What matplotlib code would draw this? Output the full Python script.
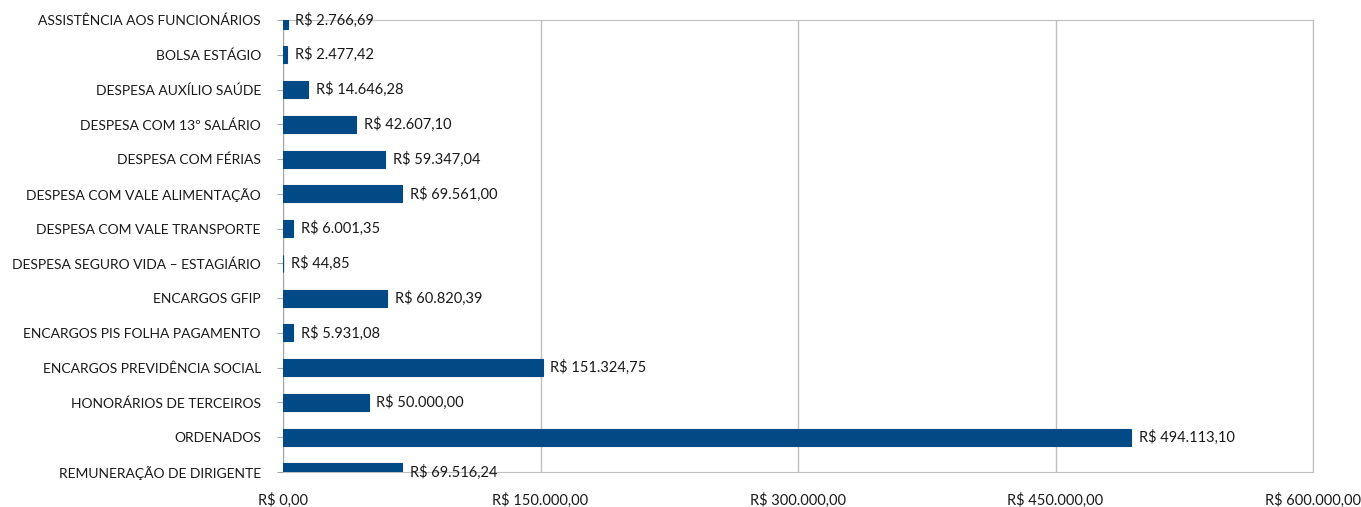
import matplotlib

matplotlib.use("Agg")
import matplotlib.pyplot as plt
import numpy as np

categories = [
    "ASSISTÊNCIA AOS FUNCIONÁRIOS",
    "BOLSA ESTÁGIO",
    "DESPESA AUXÍLIO SAÚDE",
    "DESPESA COM 13º SALÁRIO",
    "DESPESA COM FÉRIAS",
    "DESPESA COM VALE ALIMENTAÇÃO",
    "DESPESA COM VALE TRANSPORTE",
    "DESPESA SEGURO VIDA – ESTAGIÁRIO",
    "ENCARGOS GFIP",
    "ENCARGOS PIS FOLHA PAGAMENTO",
    "ENCARGOS PREVIDÊNCIA SOCIAL",
    "HONORÁRIOS DE TERCEIROS",
    "ORDENADOS",
    "REMUNERAÇÃO DE DIRIGENTE",
]
values = [
    2766.69, 2477.42, 14646.28, 42607.10, 59347.04, 69561.00, 6001.35,
    44.85, 60820.39, 5931.08, 151324.75, 50000.00, 494113.10, 69516.24,
]
x_ticks = [0, 150000, 300000, 450000, 600000]


def brl(v):
    s = f"{v:,.2f}".replace(",", "X").replace(".", ",").replace("X", ".")
    return f"R$ {s}"


plt.rcParams["font.family"] = ["Lato", "DejaVu Sans"]

fig = plt.figure(figsize=(13.61, 5.07), dpi=100)
ax = fig.add_axes([283 / 1361, 1 - 472 / 507, 1030 / 1361, 452 / 507])

y = np.arange(len(categories))
ax.barh(y, values, height=0.49, color="#024a86", edgecolor="#024a86",
        linewidth=0.8, zorder=3)
for yi, v in zip(y, values):
    ax.annotate(brl(v), (v, yi), xytext=(5.5, 0), textcoords="offset points",
                ha="left", va="center", fontsize=10.5, color="#1a1a1a",
                annotation_clip=False, zorder=4)

ax.set_ylim(len(categories) - 1, 0)
ax.set_xlim(0, 600000)
ax.set_yticks(y)
ax.set_yticklabels(categories, fontsize=10, color="#1a1a1a")
ax.set_xticks(x_ticks)
ax.set_xticklabels([brl(t) for t in x_ticks], fontsize=10.5, color="#1a1a1a")
ax.tick_params(axis="y", length=4, color="#a6a6a6", pad=12)
ax.tick_params(axis="x", length=0, pad=15)
ax.grid(axis="x", color="#bfbfbf", linewidth=1, zorder=0)
for s in ax.spines.values():
    s.set_color("#bfbfbf")
ax.spines["left"].set_color("#a6a6a6")

fig.savefig("out.png", dpi=100)
